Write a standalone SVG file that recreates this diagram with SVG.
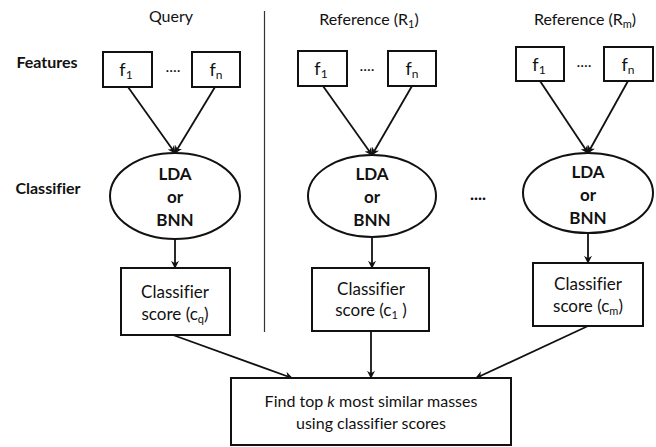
<svg xmlns="http://www.w3.org/2000/svg" width="656" height="447" viewBox="0 0 656 447">
<defs>
<style>
text{font-family:Lato,"Open Sans","Liberation Sans",sans-serif;fill:#111;text-anchor:middle;font-variant-ligatures:none}
.t{font-size:16px}
.s{font-size:17px}
.b{font-size:16px;font-weight:bold}
.c{font-size:17px;font-weight:bold}
.f{font-size:18px}
.box{fill:#fff;stroke:#111;stroke-width:2}
.conn line{stroke:#111;stroke-width:1.8;marker-end:url(#ah)}
</style>
<marker id="ah" viewBox="0 0 10 10" refX="9" refY="5" markerWidth="8" markerHeight="8" orient="auto" markerUnits="userSpaceOnUse">
<path d="M0,0 L10,5 L0,10 L3,5 z" fill="#111"/>
</marker>
</defs>
<rect width="656" height="447" fill="#fff"/>
<g id="headers">
<text class="t" x="171" y="22">Query</text>
<text class="t" x="369" y="25">Reference (R<tspan font-size="11" dy="3">1</tspan><tspan dy="-3">)</tspan></text>
<text class="t" x="585" y="25">Reference (R<tspan font-size="11" dy="3">m</tspan><tspan dy="-3">)</tspan></text>
<text class="b" x="47" y="68">Features</text>
<text class="b" x="48" y="194">Classifier</text>
</g>
<line id="divider" x1="264.5" y1="11" x2="264.5" y2="332" stroke="#333" stroke-width="1.2"/>
<g class="conn" id="connectors">
<line x1="128" y1="87" x2="175" y2="153"/>
<line x1="215" y1="87" x2="175" y2="153"/>
<line x1="323" y1="86" x2="372" y2="155"/>
<line x1="412" y1="86" x2="372" y2="155"/>
<line x1="540" y1="81" x2="588" y2="153"/>
<line x1="628" y1="81" x2="588" y2="153"/>
<line x1="175" y1="239" x2="175" y2="268"/>
<line x1="372" y1="237" x2="372" y2="268"/>
<line x1="588" y1="233" x2="588" y2="263"/>
<line x1="173" y1="335" x2="292" y2="378"/>
<line x1="371" y1="331" x2="371" y2="378"/>
<line x1="588" y1="326" x2="476" y2="378"/>
</g>
<g id="q-f1"><rect class="box" x="103" y="52" width="49" height="35"/><text class="f" x="126" y="76">f<tspan font-size="12" dy="3">1</tspan></text></g>
<text id="q-dots" class="t" x="173" y="72">....</text>
<g id="q-fn"><rect class="box" x="192" y="52" width="48" height="35"/><text class="f" x="216" y="76">f<tspan font-size="12" dy="3">n</tspan></text></g>
<g id="r1-f1"><rect class="box" x="298" y="51" width="49" height="35"/><text class="f" x="321" y="75">f<tspan font-size="12" dy="3">1</tspan></text></g>
<text id="r1-dots" class="t" x="367" y="71">....</text>
<g id="r1-fn"><rect class="box" x="388" y="51" width="48" height="35"/><text class="f" x="412" y="75">f<tspan font-size="12" dy="3">n</tspan></text></g>
<g id="rm-f1"><rect class="box" x="516" y="47" width="48" height="34"/><text class="f" x="539" y="71">f<tspan font-size="12" dy="3">1</tspan></text></g>
<text id="rm-dots" class="t" x="584" y="67">....</text>
<g id="rm-fn"><rect class="box" x="604" y="47" width="49" height="34"/><text class="f" x="628" y="71">f<tspan font-size="12" dy="3">n</tspan></text></g>
<g id="q-cls"><ellipse class="box" cx="175" cy="196" rx="65" ry="43"/><text class="c" x="175" y="180">LDA</text><text class="c" x="175" y="203">or</text><text class="c" x="175" y="226">BNN</text></g>
<g id="r1-cls"><ellipse class="box" cx="372" cy="196" rx="64" ry="41"/><text class="c" x="372" y="180">LDA</text><text class="c" x="372" y="203">or</text><text class="c" x="372" y="226">BNN</text></g>
<text id="mid-dots" class="c" x="478" y="200">....</text>
<g id="rm-cls"><ellipse class="box" cx="588" cy="193" rx="65" ry="40"/><text class="c" x="588" y="178">LDA</text><text class="c" x="588" y="201">or</text><text class="c" x="588" y="224">BNN</text></g>
<g id="q-score"><rect class="box" x="121" y="268" width="109" height="67"/><text class="s" x="175" y="298">Classifier</text><text class="s" x="175" y="320">score (c<tspan font-size="11" dy="3">q</tspan><tspan dy="-3">)</tspan></text></g>
<g id="r1-score"><rect class="box" x="312" y="268" width="117" height="63"/><text class="s" x="371" y="295">Classifier</text><text class="s" x="371" y="316">score (c<tspan font-size="11" dy="3">1</tspan><tspan dy="-3"> )</tspan></text></g>
<g id="rm-score"><rect class="box" x="533" y="263" width="110" height="63"/><text class="s" x="588" y="290">Classifier</text><text class="s" x="588" y="312">score (c<tspan font-size="11" dy="3">m</tspan><tspan dy="-3">)</tspan></text></g>
<g id="final"><rect class="box" x="231" y="378" width="280" height="67"/><text class="t" x="371" y="407">Find top <tspan font-style="italic">k</tspan> most similar masses</text><text class="t" x="371" y="429">using classifier scores</text></g>
</svg>
